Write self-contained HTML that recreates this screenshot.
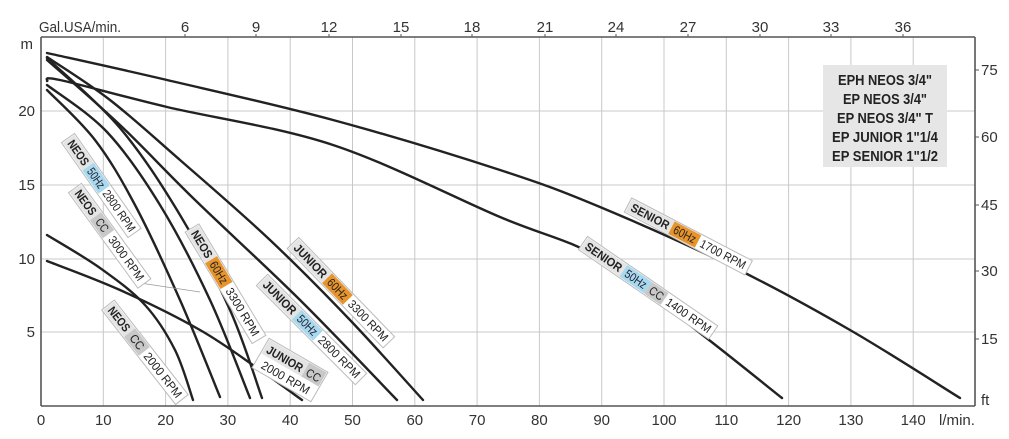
<!DOCTYPE html>
<html><head><meta charset="utf-8"><style>
html,body{margin:0;padding:0;background:#fff;}
svg{display:block;font-family:"Liberation Sans Narrow","Liberation Sans",sans-serif;}
</style></head><body>
<svg id="chart" width="1009" height="439" viewBox="0 0 1009 439" xmlns="http://www.w3.org/2000/svg">
<g stroke="#c8c8c8" stroke-width="1">
<line x1="103.3" y1="37" x2="103.3" y2="406"/><line x1="165.6" y1="37" x2="165.6" y2="406"/><line x1="227.9" y1="37" x2="227.9" y2="406"/><line x1="290.2" y1="37" x2="290.2" y2="406"/><line x1="352.5" y1="37" x2="352.5" y2="406"/><line x1="414.8" y1="37" x2="414.8" y2="406"/><line x1="477.1" y1="37" x2="477.1" y2="406"/><line x1="539.4" y1="37" x2="539.4" y2="406"/><line x1="601.7" y1="37" x2="601.7" y2="406"/><line x1="664" y1="37" x2="664" y2="406"/><line x1="726.3" y1="37" x2="726.3" y2="406"/><line x1="788.6" y1="37" x2="788.6" y2="406"/><line x1="850.9" y1="37" x2="850.9" y2="406"/><line x1="913.2" y1="37" x2="913.2" y2="406"/>
<line x1="41" y1="111" x2="975" y2="111"/><line x1="41" y1="185" x2="975" y2="185"/><line x1="41" y1="259" x2="975" y2="259"/><line x1="41" y1="332" x2="975" y2="332"/>
</g>
<g stroke="#555" stroke-width="1.6" fill="none">
<line x1="41" y1="37" x2="975" y2="37"/><line x1="41" y1="37" x2="41" y2="406"/><line x1="41" y1="406" x2="975" y2="406"/><line x1="975" y1="37" x2="975" y2="406"/>
</g>
<g stroke="#555" stroke-width="1">
<line x1="185" y1="34" x2="185" y2="37"/><line x1="256" y1="34" x2="256" y2="37"/><line x1="329" y1="34" x2="329" y2="37"/><line x1="401" y1="34" x2="401" y2="37"/><line x1="472" y1="34" x2="472" y2="37"/><line x1="545" y1="34" x2="545" y2="37"/><line x1="616" y1="34" x2="616" y2="37"/><line x1="688" y1="34" x2="688" y2="37"/><line x1="760" y1="34" x2="760" y2="37"/><line x1="831" y1="34" x2="831" y2="37"/><line x1="903" y1="34" x2="903" y2="37"/>
<line x1="975" y1="70" x2="979" y2="70"/><line x1="975" y1="137" x2="979" y2="137"/><line x1="975" y1="205" x2="979" y2="205"/><line x1="975" y1="271" x2="979" y2="271"/><line x1="975" y1="339" x2="979" y2="339"/>
</g>
<g fill="#333" font-size="15" text-anchor="middle">
<text x="80" y="32" textLength="82" lengthAdjust="spacingAndGlyphs">Gal.USA/min.</text>
<text x="185" y="32">6</text><text x="256" y="32">9</text><text x="329" y="32">12</text><text x="401" y="32">15</text><text x="472" y="32">18</text><text x="545" y="32">21</text><text x="616" y="32">24</text><text x="688" y="32">27</text><text x="760" y="32">30</text><text x="831" y="32">33</text><text x="903" y="32">36</text>
<text x="41" y="425">0</text><text x="103.3" y="425">10</text><text x="165.6" y="425">20</text><text x="227.9" y="425">30</text><text x="290.2" y="425">40</text><text x="352.5" y="425">50</text><text x="414.8" y="425">60</text><text x="477.1" y="425">70</text><text x="539.4" y="425">80</text><text x="601.7" y="425">90</text><text x="664" y="425">100</text><text x="726.3" y="425">110</text><text x="788.6" y="425">120</text><text x="850.9" y="425">130</text><text x="913.2" y="425">140</text><text x="957" y="425" textLength="36" lengthAdjust="spacingAndGlyphs">l/min.</text>
</g>
<g fill="#333" font-size="15" text-anchor="end">
<text x="33" y="49">m</text><text x="35" y="116">20</text><text x="35" y="190">15</text><text x="35" y="264">10</text><text x="35" y="337">5</text>
</g>
<g fill="#333" font-size="15">
<text x="981" y="75">75</text><text x="981" y="142">60</text><text x="981" y="210">45</text><text x="981" y="276">30</text><text x="981" y="344">15</text><text x="981" y="405">ft</text>
</g>
<rect x="823" y="65" width="124" height="102" fill="#e6e6e6"/>
<g fill="#222" font-size="14.5" font-weight="bold" text-anchor="middle">
<text x="885" y="85" textLength="94" lengthAdjust="spacingAndGlyphs">EPH NEOS 3/4"</text><text x="885" y="104" textLength="84" lengthAdjust="spacingAndGlyphs">EP NEOS 3/4"</text><text x="885" y="123" textLength="96" lengthAdjust="spacingAndGlyphs">EP NEOS 3/4" T</text><text x="885" y="142" textLength="106" lengthAdjust="spacingAndGlyphs">EP JUNIOR 1"1/4</text><text x="885" y="161" textLength="106" lengthAdjust="spacingAndGlyphs">EP SENIOR 1"1/2</text>
</g>
<g id="curves" stroke="#222" stroke-width="2.4" fill="none" stroke-linejoin="round" stroke-linecap="round">
<polyline points="47,53 167,80 333,120 500,170 600,207 733,267 850,330 960,398"/>
<polyline points="47,81 60,80 167,107 333,145 500,217 600,258 700,333 782,398"/>
<polyline points="47,57 110,100 180,160 270,240 350,320 423,400"/>
<polyline points="47,60 120,125 193,198 300,300 397,400"/>
<polyline points="47,58 120,128 180,215 230,310 262,398"/>
<polyline points="47,85 107,132 160,205 210,300 250,398"/>
<polyline points="47,90 95,140 135,205 180,300 220,397"/>
<polyline points="47,235 100,268 145,305 175,350 193,400"/>
<polyline points="47,261 120,290 200,330 260,370 302,400"/>
</g>
<line x1="140" y1="283" x2="200" y2="292" stroke="#999" stroke-width="0.8"/>
<g font-size="12" text-anchor="middle">
<g transform="translate(68,138) rotate(55)">
<rect x="0" y="-8" width="116" height="16" fill="#fff" stroke="#bbb"/>
<rect x="1" y="-7" width="34" height="14" fill="#e4e4e4"/><rect x="35" y="-7" width="28" height="14" fill="#a9d9ef"/>
<text x="18" y="4" font-weight="bold" fill="#222" textLength="28" lengthAdjust="spacingAndGlyphs">NEOS</text><text x="49" y="4" fill="#223" textLength="22" lengthAdjust="spacingAndGlyphs">50Hz</text><text x="89" y="4" fill="#222" textLength="48" lengthAdjust="spacingAndGlyphs">2800 RPM</text></g>
<g transform="translate(75,188) rotate(54)">
<rect x="0" y="-8" width="118" height="16" fill="#fff" stroke="#bbb"/>
<rect x="1" y="-7" width="34" height="14" fill="#e4e4e4"/><rect x="35" y="-7" width="22" height="14" fill="#c8c8c8"/>
<text x="18" y="4" font-weight="bold" fill="#222" textLength="28" lengthAdjust="spacingAndGlyphs">NEOS</text><text x="46" y="4" fill="#222" textLength="14" lengthAdjust="spacingAndGlyphs">CC</text><text x="87" y="4" fill="#222" textLength="52" lengthAdjust="spacingAndGlyphs">3000 RPM</text></g>
<g transform="translate(192,228) rotate(59)">
<rect x="0" y="-8" width="130" height="16" fill="#fff" stroke="#bbb"/>
<rect x="1" y="-7" width="36" height="14" fill="#e4e4e4"/><rect x="37" y="-7" width="30" height="14" fill="#e8942c"/>
<text x="19" y="4" font-weight="bold" fill="#222" textLength="30" lengthAdjust="spacingAndGlyphs">NEOS</text><text x="52" y="4" fill="#222" textLength="24" lengthAdjust="spacingAndGlyphs">60Hz</text><text x="98" y="4" fill="#222" textLength="54" lengthAdjust="spacingAndGlyphs">3300 RPM</text></g>
<g transform="translate(293,243) rotate(46)">
<rect x="0" y="-8" width="138" height="16" fill="#fff" stroke="#bbb"/>
<rect x="1" y="-7" width="48" height="14" fill="#e4e4e4"/><rect x="49" y="-7" width="30" height="14" fill="#e8942c"/>
<text x="25" y="4" font-weight="bold" fill="#222" textLength="42" lengthAdjust="spacingAndGlyphs">JUNIOR</text><text x="64" y="4" fill="#222" textLength="24" lengthAdjust="spacingAndGlyphs">60Hz</text><text x="108" y="4" fill="#222" textLength="52" lengthAdjust="spacingAndGlyphs">3300 RPM</text></g>
<g transform="translate(262,280) rotate(45)">
<rect x="0" y="-8" width="140" height="16" fill="#fff" stroke="#bbb"/>
<rect x="1" y="-7" width="48" height="14" fill="#e4e4e4"/><rect x="49" y="-7" width="30" height="14" fill="#a9d9ef"/>
<text x="25" y="4" font-weight="bold" fill="#222" textLength="42" lengthAdjust="spacingAndGlyphs">JUNIOR</text><text x="64" y="4" fill="#223" textLength="24" lengthAdjust="spacingAndGlyphs">50Hz</text><text x="109" y="4" fill="#222" textLength="54" lengthAdjust="spacingAndGlyphs">2800 RPM</text></g>
<g transform="translate(108,305) rotate(52)">
<rect x="0" y="-8" width="120" height="16" fill="#fff" stroke="#bbb"/>
<rect x="1" y="-7" width="34" height="14" fill="#e4e4e4"/><rect x="35" y="-7" width="24" height="14" fill="#c8c8c8"/>
<text x="18" y="4" font-weight="bold" fill="#222" textLength="28" lengthAdjust="spacingAndGlyphs">NEOS</text><text x="47" y="4" fill="#222" textLength="16" lengthAdjust="spacingAndGlyphs">CC</text><text x="89" y="4" fill="#222" textLength="54" lengthAdjust="spacingAndGlyphs">2000 RPM</text></g>
<g transform="translate(290,370) rotate(30)">
<rect x="-34" y="-17" width="68" height="34" fill="#fff" stroke="#bbb"/>
<rect x="-33" y="-16" width="46" height="16" fill="#e4e4e4"/><rect x="13" y="-16" width="20" height="16" fill="#c8c8c8"/>
<text x="-10" y="-3" font-weight="bold" fill="#222" textLength="40" lengthAdjust="spacingAndGlyphs">JUNIOR</text><text x="23" y="-3" fill="#222" textLength="15" lengthAdjust="spacingAndGlyphs">CC</text><text x="0" y="13" fill="#222" textLength="54" lengthAdjust="spacingAndGlyphs">2000 RPM</text></g>
<g transform="translate(628,205) rotate(27.5)">
<rect x="0" y="-8" width="136" height="16" fill="#fff" stroke="#bbb"/>
<rect x="1" y="-7" width="48" height="14" fill="#e4e4e4"/><rect x="49" y="-7" width="30" height="14" fill="#e8942c"/>
<text x="25" y="4" font-weight="bold" fill="#222" textLength="42" lengthAdjust="spacingAndGlyphs">SENIOR</text><text x="64" y="4" fill="#222" textLength="24" lengthAdjust="spacingAndGlyphs">60Hz</text><text x="107" y="4" fill="#222" textLength="50" lengthAdjust="spacingAndGlyphs">1700 RPM</text></g>
<g transform="translate(583,243) rotate(34.5)">
<rect x="0" y="-8" width="158" height="16" fill="#fff" stroke="#bbb"/>
<rect x="1" y="-7" width="48" height="14" fill="#e4e4e4"/><rect x="49" y="-7" width="30" height="14" fill="#a9d9ef"/><rect x="79" y="-7" width="20" height="14" fill="#c8c8c8"/>
<text x="25" y="4" font-weight="bold" fill="#222" textLength="42" lengthAdjust="spacingAndGlyphs">SENIOR</text><text x="64" y="4" fill="#223" textLength="24" lengthAdjust="spacingAndGlyphs">50Hz</text><text x="89" y="4" fill="#222" textLength="15" lengthAdjust="spacingAndGlyphs">CC</text><text x="128" y="4" fill="#222" textLength="52" lengthAdjust="spacingAndGlyphs">1400 RPM</text></g>
</g>
</svg>
<script>
(function(){
var NS="http://www.w3.org/2000/svg";
var pls=document.querySelectorAll("#curves polyline");
for(var i=0;i<pls.length;i++){
var pl=pls[i];
var pts=pl.getAttribute("points").trim().split(/\s+/).map(function(s){var a=s.split(",");return [+a[0],+a[1]];});
var d="M"+pts[0][0]+","+pts[0][1];
for(var k=0;k<pts.length-1;k++){
var p0=pts[k>0?k-1:0],p1=pts[k],p2=pts[k+1],p3=pts[k+2<pts.length?k+2:k+1];
var c1x=p1[0]+(p2[0]-p0[0])/6,c1y=p1[1]+(p2[1]-p0[1])/6;
var c2x=p2[0]-(p3[0]-p1[0])/6,c2y=p2[1]-(p3[1]-p1[1])/6;
d+=" C"+c1x.toFixed(1)+","+c1y.toFixed(1)+" "+c2x.toFixed(1)+","+c2y.toFixed(1)+" "+p2[0]+","+p2[1];
}
var p=document.createElementNS(NS,"path");p.setAttribute("d",d);
pl.parentNode.replaceChild(p,pl);
}
})();
</script>
</body></html>
